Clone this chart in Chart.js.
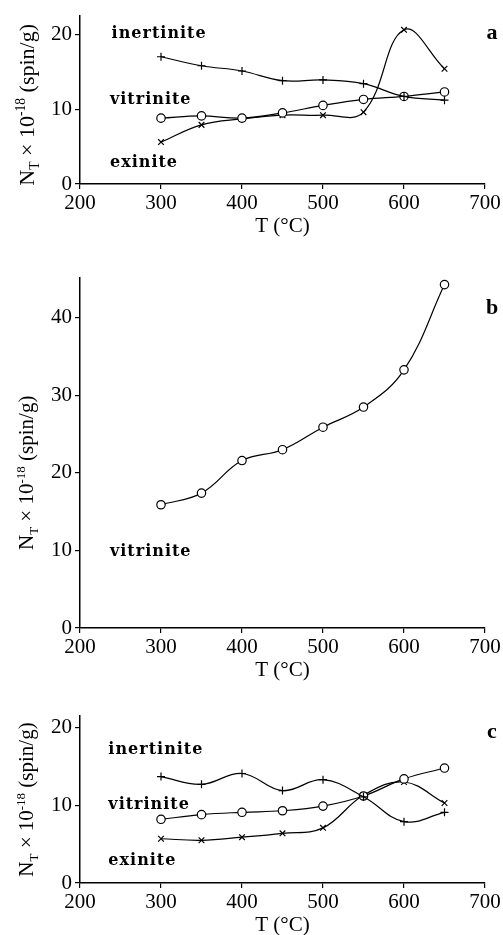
<!DOCTYPE html>
<html>
<head>
<meta charset="utf-8">
<script src="https://cdn.jsdelivr.net/npm/chart.js@4"></script>
<style>
  body { margin: 0; background: #fff; }
  #wrap { position: relative; width: 503px; height: 935px; overflow: hidden; }
  canvas { position: absolute; left: 0; }
</style>
</head>
<body>
<div id="wrap">
  <canvas id="panelA" width="503" height="239" style="top:0px"></canvas>
  <canvas id="panelB" width="503" height="421" style="top:262px"></canvas>
  <canvas id="panelC" width="503" height="238" style="top:700px"></canvas>
</div>
<script>
// pyrolysis temperature, °C
const temps = [300, 350, 400, 450, 500, 550, 600, 650];
const xTicks = [200, 300, 400, 500, 600, 700];
const yTicksSmall = [0, 10, 20];
const yTicksBig = [0, 10, 20, 30, 40];

// N_T x 10^-18 (spin/g)
// panel a
const aInertinite = [17.0, 15.8, 15.1, 13.8, 13.9, 13.4, 11.7, 11.2];
const aVitrinite = [8.8, 9.1, 8.8, 9.5, 10.5, 11.3, 11.7, 12.3];
const aExinite = [5.6, 7.9, 8.7, 9.2, 9.2, 9.6, 20.6, 15.4];
// panel b
const bVitrinite = [15.9, 17.4, 21.6, 23.0, 25.9, 28.5, 33.3, 44.3];
// panel c
const cInertinite = [13.7, 12.7, 14.1, 11.9, 13.3, 11.1, 7.9, 9.1];
const cVitrinite = [8.2, 8.8, 9.1, 9.3, 9.9, 11.2, 13.4, 14.8];
const cExinite = [5.7, 5.5, 5.9, 6.4, 7.1, 11.3, 13.0, 10.3];

const xTitle = "T (°C)";
const SERIF = "'Liberation Serif', 'Times New Roman', serif";

// draws the maceral names, the panel letter and the y title (with sub/superscript)
const annot = {
  id: "annot",
  afterDraw(chart, args, o) {
    const { ctx, chartArea, scales } = chart;
    ctx.save();
    ctx.fillStyle = "#000";
    ctx.textBaseline = "middle";

    ctx.font = "bold 16px 'DejaVu Serif'";
    ctx.letterSpacing = "1px";
    ctx.textAlign = "left";
    o.notes.forEach(n => {
      ctx.fillText(n.text, scales.x.getPixelForValue(n.x), scales.y.getPixelForValue(n.y));
    });
    ctx.letterSpacing = "0px";

    ctx.font = "bold 22px " + SERIF;
    ctx.textAlign = "center";
    ctx.fillText(o.letter, chartArea.right + 7, scales.y.getPixelForValue(o.letterY));

    // y axis title
    const fs = o.titleSize;
    const parts = [
      { t: "N", s: 1, dy: 0 },
      { t: "T", s: 0.62, dy: 0.22 },
      { t: " \u00d7 10", s: 1, dy: 0 },
      { t: "-18", s: 0.62, dy: -0.4 },
      { t: " (spin/g)", s: 1, dy: 0 },
    ];
    let total = 0;
    parts.forEach(p => {
      ctx.font = (fs * p.s) + "px " + SERIF;
      p.w = ctx.measureText(p.t).width;
      total += p.w;
    });
    ctx.translate(26, (chartArea.top + chartArea.bottom) / 2 + o.titleShift);
    ctx.rotate(-Math.PI / 2);
    ctx.textAlign = "left";
    ctx.textBaseline = "alphabetic";
    let px = -total / 2;
    parts.forEach(p => {
      ctx.font = (fs * p.s) + "px " + SERIF;
      ctx.fillText(p.t, px, fs * 0.35 + p.dy * fs);
      px += p.w;
    });
    ctx.restore();
  }
};

function series(values, marker) {
  return {
    data: temps.map((t, i) => ({ x: t, y: values[i] })),
    borderColor: "#000",
    borderWidth: 1.2,
    tension: 0.4,
    pointStyle: marker,
    pointRadius: marker === "circle" ? 4.2 : 4,
    pointBorderColor: "#000",
    pointBackgroundColor: "#fff",
    pointBorderWidth: 1.2,
  };
}

function options(yMax, yTicks, padTop, annotOpts) {
  const tickFont = { family: SERIF, size: 21 };
  const axisGrid = { drawOnChartArea: false, tickLength: 5, color: "#000", lineWidth: 1.2 };
  const axisBorder = { color: "#000", width: 1.5 };
  return {
    responsive: false,
    animation: false,
    events: [],
    layout: { padding: { top: padTop, right: 18, left: 0, bottom: 0 } },
    plugins: { legend: { display: false }, tooltip: { enabled: false }, annot: annotOpts },
    scales: {
      x: {
        type: "linear", min: 200, max: 700,
        afterBuildTicks: s => { s.ticks = xTicks.map(v => ({ value: v })); },
        grid: axisGrid, border: axisBorder,
        ticks: { font: tickFont, color: "#000", padding: 2, maxRotation: 0, autoSkip: false },
        title: { display: true, text: xTitle, font: { family: SERIF, size: 21 }, color: "#000", padding: 0 },
        afterFit: s => { s.height = 55; },
      },
      y: {
        type: "linear", min: 0, max: yMax,
        afterBuildTicks: s => { s.ticks = yTicks.map(v => ({ value: v })); },
        grid: axisGrid, border: axisBorder,
        ticks: { font: tickFont, color: "#000", padding: 3 },
        afterFit: s => { s.width = 80; },
      },
    },
  };
}

new Chart(document.getElementById("panelA"), {
  type: "line",
  data: { datasets: [series(aInertinite, "cross"), series(aVitrinite, "circle"), series(aExinite, "crossRot")] },
  options: options(22.5, yTicksSmall, 12.5, {
    notes: [{ text: "inertinite", x: 239, y: 20.0 }, { text: "vitrinite", x: 237, y: 11.2 }, { text: "exinite", x: 237, y: 2.8 }],
    letter: "a", letterY: 20.2, titleSize: 22, titleShift: 5,
  }),
  plugins: [annot],
});

new Chart(document.getElementById("panelB"), {
  type: "line",
  data: { datasets: [series(bVitrinite, "circle")] },
  options: options(45.2, yTicksBig, 13, {
    notes: [{ text: "vitrinite", x: 237, y: 9.8 }],
    letter: "b", letterY: 41.2, titleSize: 21, titleShift: 20,
  }),
  plugins: [annot],
});

new Chart(document.getElementById("panelC"), {
  type: "line",
  data: { datasets: [series(cInertinite, "cross"), series(cVitrinite, "circle"), series(cExinite, "crossRot")] },
  options: options(21.5, yTicksSmall, 16, {
    notes: [{ text: "inertinite", x: 235, y: 17.2 }, { text: "vitrinite", x: 235, y: 10.1 }, { text: "exinite", x: 235, y: 2.9 }],
    letter: "c", letterY: 19.4, titleSize: 21, titleShift: 0,
  }),
  plugins: [annot],
});
</script>
</body>
</html>
